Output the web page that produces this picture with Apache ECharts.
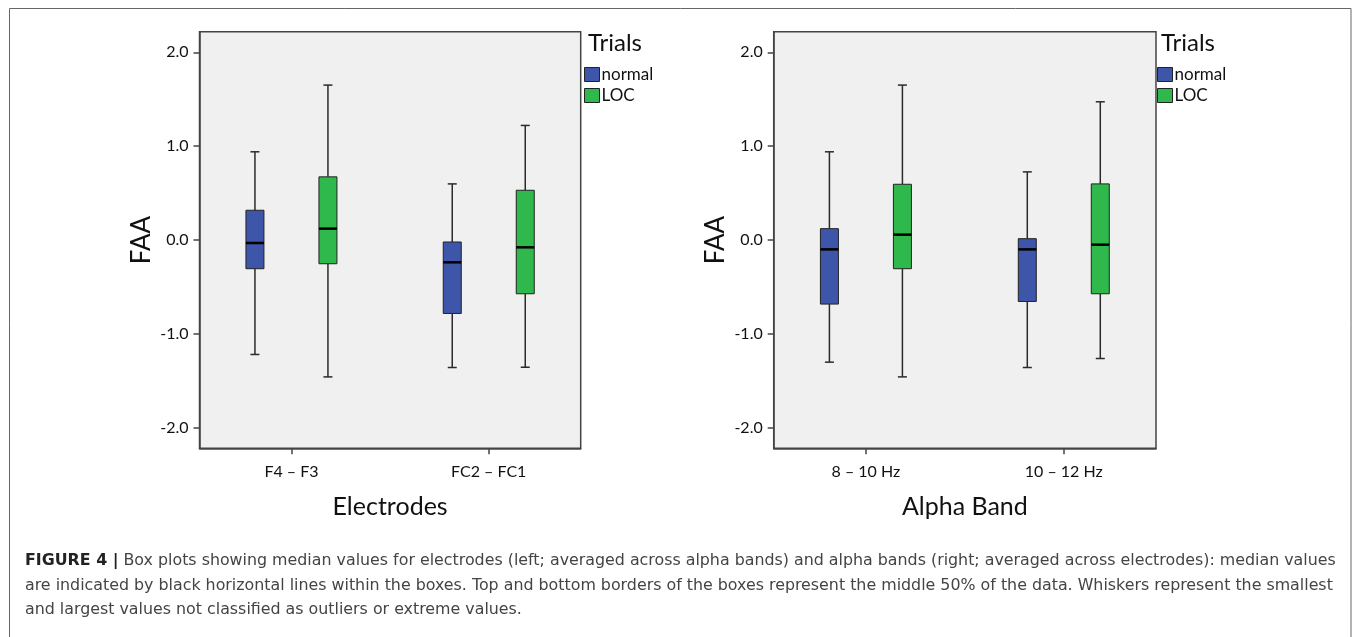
<!DOCTYPE html>
<html><head><meta charset="utf-8">
<script src="https://cdn.jsdelivr.net/npm/echarts@6/dist/echarts.min.js"></script>
<style>html,body{margin:0;padding:0;background:#fff}#c{width:1355px;height:637px}</style>
</head><body><div id="c"></div>
<script>
// ---- data ----
const electrodes = ['F4 – F3', 'FC2 – FC1'];
const bands = ['8 – 10 Hz', '10 – 12 Hz'];
const trials = ['normal', 'LOC'];
const yTicks = [-2, -1, 0, 1, 2];
const xTicks = [1, 2];
// each box: [min, Q1, median, Q3, max]
const electrodeNormal = [[-1.22, -0.306, -0.032, 0.317, 0.94], [-1.359, -0.783, -0.238, -0.021, 0.598]];
const electrodeLOC = [[-1.459, -0.253, 0.121, 0.673, 1.651], [-1.356, -0.573, -0.078, 0.530, 1.221]];
const bandNormal = [[-1.302, -0.683, -0.100, 0.121, 0.94], [-1.359, -0.655, -0.100, 0.014, 0.726]];
const bandLOC = [[-1.459, -0.306, 0.057, 0.594, 1.651], [-1.263, -0.573, -0.050, 0.598, 1.473]];

// ---- styles ----
const FONT = 'Lato';
const CAP_FONT = 'DejaVu Sans';
const BLUE = '#3d56a9';
const GREEN = '#2fb84b';
const FRAME = '#444';
const BOX_W = 18, CAP_W = 9, OFFSET = 36.5;

function toItems(arr) { return arr.map((d, i) => [i + 1].concat(d)); }

function makeRender(side) {
  return function (params, api) {
    const x = api.value(0);
    const p = [1, 2, 3, 4, 5].map(k => api.coord([x, api.value(k)]));
    const cx = p[0][0] + side * OFFSET;
    const yMin = p[0][1], yQ1 = p[1][1], yMed = p[2][1], yQ3 = p[3][1], yMax = p[4][1];
    const ws = { stroke: '#2a2a2a', lineWidth: 1.5 };
    return {
      type: 'group', children: [
        { type: 'line', shape: { x1: cx, y1: yMax, x2: cx, y2: yQ3 }, style: ws },
        { type: 'line', shape: { x1: cx, y1: yQ1, x2: cx, y2: yMin }, style: ws },
        { type: 'line', shape: { x1: cx - CAP_W / 2, y1: yMax, x2: cx + CAP_W / 2, y2: yMax }, style: ws },
        { type: 'line', shape: { x1: cx - CAP_W / 2, y1: yMin, x2: cx + CAP_W / 2, y2: yMin }, style: ws },
        { type: 'rect', shape: { x: cx - BOX_W / 2, y: yQ3, width: BOX_W, height: yQ1 - yQ3 }, style: { fill: api.visual('color'), stroke: '#222', lineWidth: 1 } },
        { type: 'line', shape: { x1: cx - BOX_W / 2, y1: yMed, x2: cx + BOX_W / 2, y2: yMed }, style: { stroke: '#000', lineWidth: 2.5 } }
      ]
    };
  };
}

function boxSeries(name, data, gi, side, color) {
  return {
    type: 'custom', name: name, xAxisIndex: gi, yAxisIndex: gi,
    data: toItems(data), encode: { x: 0, y: [1, 2, 3, 4, 5] },
    itemStyle: { color: color, borderColor: '#222', borderWidth: 1 },
    renderItem: makeRender(side), clip: false, silent: true
  };
}

function xAxis(gi, cats, title) {
  return {
    type: 'value', gridIndex: gi, min: 0.534, max: 2.466,
    axisLine: { show: true, onZero: false, lineStyle: { color: FRAME, width: 1.5 } },
    axisTick: { show: true, customValues: xTicks, length: 6, lineStyle: { color: FRAME, width: 1.5 } },
    axisLabel: { customValues: xTicks, formatter: v => cats[Math.round(v) - 1], fontFamily: FONT, fontSize: 16, color: '#111', margin: 16 },
    splitLine: { show: false },
    name: title, nameLocation: 'middle', nameGap: 46,
    nameTextStyle: { fontFamily: FONT, fontSize: 25, color: '#111' }
  };
}
function yAxis(gi) {
  return {
    type: 'value', gridIndex: gi, min: -2.22, max: 2.22,
    axisLine: { show: true, onZero: false, lineStyle: { color: FRAME, width: 1.5 } },
    axisTick: { show: true, customValues: yTicks, length: 6, lineStyle: { color: FRAME, width: 1.5 } },
    axisLabel: { customValues: yTicks, formatter: v => v.toFixed(1), fontFamily: FONT, fontSize: 16, color: '#111', margin: 11 },
    splitLine: { show: false },
    name: 'FAA', nameLocation: 'middle', nameGap: 45, nameRotate: 90,
    nameTextStyle: { fontFamily: FONT, fontSize: 26, color: '#111' }
  };
}
function legend(left) {
  return {
    data: trials, orient: 'vertical', left: left, top: 66, padding: 0,
    itemWidth: 15, itemHeight: 14, itemGap: 4, icon: 'rect', selectedMode: false,
    itemStyle: { borderColor: '#222', borderWidth: 1 },
    textStyle: { fontFamily: FONT, fontSize: 17, color: '#111', padding: [0, 0, 0, -3] }
  };
}

const capStyle = '15.85px "' + CAP_FONT + '"';
const chart = echarts.init(document.getElementById('c'), null, { renderer: 'canvas' });
chart.setOption({
  animation: false,
  backgroundColor: '#fff',
  title: [
    { text: 'Trials', left: 588, top: 31, padding: 0, textStyle: { fontFamily: FONT, fontSize: 24, fontWeight: 'normal', color: '#111' } },
    { text: 'Trials', left: 1161, top: 31, padding: 0, textStyle: { fontFamily: FONT, fontSize: 24, fontWeight: 'normal', color: '#111' } }
  ],
  legend: [legend(584), legend(1157)],
  grid: [
    { left: 199.5, top: 31.7, width: 381.2, height: 416.6, show: true, backgroundColor: '#f0f0f0', borderColor: FRAME, borderWidth: 1.5 },
    { left: 773.7, top: 31.7, width: 382.3, height: 416.6, show: true, backgroundColor: '#f0f0f0', borderColor: FRAME, borderWidth: 1.5 }
  ],
  xAxis: [xAxis(0, electrodes, 'Electrodes'), xAxis(1, bands, 'Alpha Band')],
  yAxis: [yAxis(0), yAxis(1)],
  series: [
    boxSeries(trials[0], electrodeNormal, 0, -1, BLUE),
    boxSeries(trials[1], electrodeLOC, 0, 1, GREEN),
    boxSeries(trials[0], bandNormal, 1, -1, BLUE),
    boxSeries(trials[1], bandLOC, 1, 1, GREEN)
  ],
  graphic: [
    { type: 'polyline', silent: true, shape: { points: [[9.5, 640], [9.5, 8.5], [1351, 8.5], [1351, 640]] }, style: { stroke: '#666', lineWidth: 1, fill: null } },
    { type: 'text', left: 25, top: 553, silent: true, style: {
        text: '{b|FIGURE 4 |} Box plots showing median values for electrodes (left; averaged across alpha bands) and alpha bands (right; averaged across electrodes): median values',
        rich: { b: { fontFamily: CAP_FONT, fontSize: 15.85, fontWeight: 'bold', fill: '#222' } },
        font: capStyle, fill: '#444' } },
    { type: 'text', left: 25, top: 578, silent: true, style: {
        text: 'are indicated by black horizontal lines within the boxes. Top and bottom borders of the boxes represent the middle 50% of the data. Whiskers represent the smallest',
        font: capStyle, fill: '#444' } },
    { type: 'text', left: 25, top: 602, silent: true, style: {
        text: 'and largest values not classified as outliers or extreme values.',
        font: capStyle, fill: '#444' } }
  ]
});
</script></body></html>
